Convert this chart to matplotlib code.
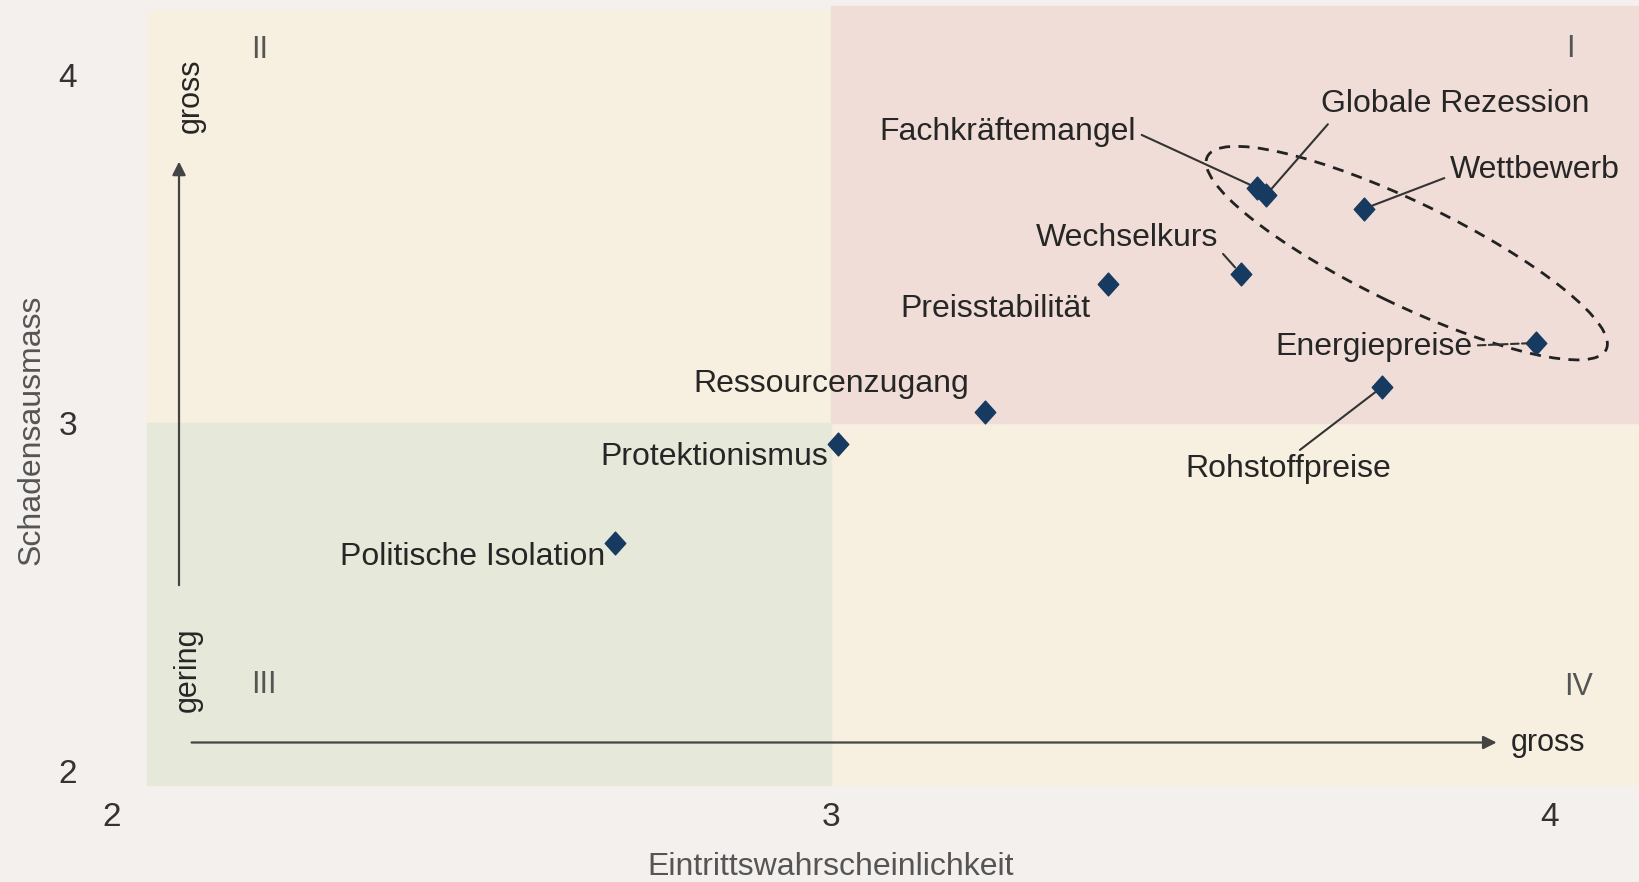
import matplotlib.pyplot as plt
from matplotlib.patches import Rectangle, Ellipse
from matplotlib.path import Path
import matplotlib.transforms as mtransforms

plt.rcParams['font.family'] = ['Liberation Sans', 'DejaVu Sans']

# risks: probability (x) and impact (y)
risks = ["Politische Isolation", "Protektionismus", "Ressourcenzugang",
         "Preisstabilität", "Wechselkurs", "Fachkräftemangel",
         "Globale Rezession", "Wettbewerb", "Energiepreise", "Rohstoffpreise"]
prob = [2.70, 3.01, 3.215, 3.385, 3.57, 3.593, 3.605, 3.741, 3.981, 3.767]
impact = [2.655, 2.94, 3.033, 3.40, 3.43, 3.676, 3.655, 3.616, 3.231, 3.105]

xticks = [2, 3, 4]
yticks = [2, 3, 4]
quadrants = ["I", "II", "III", "IV"]

bg_fig = "#F4F0EE"
bg_plot = "#F7EFE0"
c_red = "#F0DDD7"
c_green = "#E6E9DA"
navy = "#173A60"
txt = "#262626"

fig = plt.figure(figsize=(16.39, 8.82), dpi=100, facecolor=bg_fig)
ax = fig.add_axes([0.0682, 0.1254, 0.9318, 0.8682])
ax.set_xlim(2, 4.124)
ax.set_ylim(2, 4.2)
ax.set_facecolor(bg_fig)
for s in ax.spines.values():
    s.set_visible(False)

# background areas
x0, y0, x1, y1 = 2.049, 1.961, 4.124, 4.188
ax.add_patch(Rectangle((x0, y0), x1 - x0, y1 - y0, color=bg_plot, zorder=0, clip_on=False))
ax.add_patch(Rectangle((3, 3), x1 - 3, 4.2 - 3, color=c_red, zorder=0.5, clip_on=False))
ax.add_patch(Rectangle((x0, y0), 3 - x0, 3 - y0, color=c_green, zorder=0.5, clip_on=False))

# ticks
ax.tick_params(length=0, labelsize=24, labelcolor="#333333")
ax.set_xticks(xticks)
ax.set_yticks(yticks)
ax.tick_params(axis='x', pad=22)
ax.tick_params(axis='y', pad=25)
ax.set_xlabel("Eintrittswahrscheinlichkeit", fontsize=23, color="#555555")
ax.set_ylabel("Schadensausmass", fontsize=23, color="#555555")
ax.xaxis.set_label_coords(0.4708, -0.105)
ax.yaxis.set_label_coords(-0.043, 0.446)

# direction arrows
ax.annotate("", xy=(3.926, 2.083), xytext=(2.111, 2.083),
            arrowprops=dict(arrowstyle="-|>", color="#444444", lw=1.6,
                            mutation_scale=20, shrinkA=0, shrinkB=0))
ax.annotate("", xy=(2.0935, 3.752), xytext=(2.0935, 2.535),
            arrowprops=dict(arrowstyle="-|>", color="#444444", lw=1.6,
                            mutation_scale=20, shrinkA=0, shrinkB=0))
ax.text(3.945, 2.083, "gross", fontsize=22, color=txt, ha="left", va="center")
ax.text(2.110, 3.94, "gross", fontsize=22, color=txt, ha="center", va="center", rotation=90)
ax.text(2.106, 2.291, "gering", fontsize=22, color=txt, ha="center", va="center", rotation=90)

# quadrant numerals
qpos = [(4.029, 4.075), (2.206, 4.072), (2.211, 2.249), (4.04, 2.243)]
for q, (qx, qy) in zip(quadrants, qpos):
    ax.text(qx, qy, q, fontsize=22, color="#555555", ha="center", va="center")

# diamond marker
diamond = Path([(-0.9, 0), (0, 1), (0.9, 0), (0, -1), (-0.9, 0)],
               [Path.MOVETO, Path.LINETO, Path.LINETO, Path.LINETO, Path.CLOSEPOLY])
ax.scatter(prob, impact, marker=diamond, s=270, color=navy, zorder=5)

# label placement: offset (points), ha, leader relpos, line style
place = {
    "Politische Isolation": ((-7, -9.5), "right", None, None),
    "Protektionismus": ((-7, -9), "right", None, None),
    "Ressourcenzugang": ((-12, 20), "right", None, None),
    "Preisstabilität": ((-12, -18), "right", None, None),
    "Wechselkurs": ((-16, 25.5), "right", (1.0, 0.15), "-"),
    "Fachkräftemangel": ((-87, 40), "right", (1.0, 0.5), "-"),
    "Globale Rezession": ((40, 65.5), "left", (0.04, 0.0), "-"),
    "Wettbewerb": ((62, 28), "left", (0.0, 0.3), "-"),
    "Energiepreise": ((-46, -3), "right", (1.0, 0.55), "--"),
    "Rohstoffpreise": ((-68, -59.5), "center", (0.53, 1.0), "-"),
}
for name, x, y in zip(risks, prob, impact):
    off, ha, rel, ls = place[name]
    kw = {}
    if rel is not None:
        kw["arrowprops"] = dict(arrowstyle="-", color="#333333", lw=1.5,
                                linestyle=ls, relpos=rel, shrinkA=2, shrinkB=6)
    ax.annotate(name, xy=(x, y), xytext=off, textcoords="offset points",
                ha=ha, va="center", fontsize=23, color=txt, zorder=6, **kw)

# dashed ellipse around the top risks
tr = fig.dpi_scale_trans + mtransforms.ScaledTranslation(3.801, 3.489, ax.transData)
ax.add_patch(Ellipse((0, 0), 4.43, 1.02, angle=-25.8, transform=tr, fill=False,
                     edgecolor="#222222", lw=2, linestyle=(0, (4, 3)), zorder=4))

fig.savefig("out.png", dpi=100, facecolor=bg_fig)
